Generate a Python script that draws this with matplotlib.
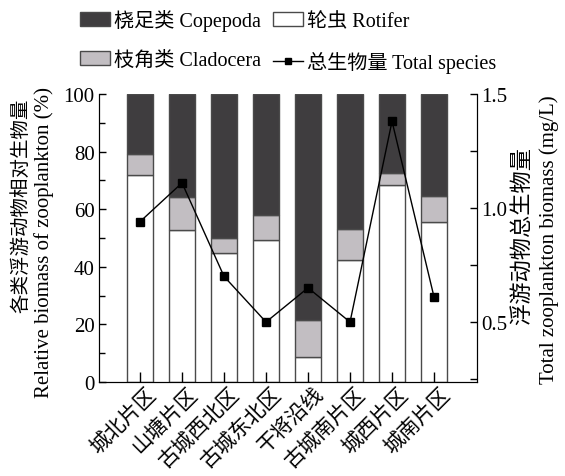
import numpy as np
import matplotlib.pyplot as plt
from matplotlib.ticker import MultipleLocator
from matplotlib.lines import Line2D
from matplotlib.patches import Patch
import matplotlib.transforms as mtransforms

plt.rcParams['font.family'] = ['Liberation Serif', 'Noto Sans CJK SC']
plt.rcParams['font.size'] = 15

# data
regions = ['城北片区', '山塘片区', '古城西北区', '古城东北区', '干将沿线', '古城南片区', '城西片区', '城南片区']
rotifer = [72, 52.8, 44.7, 49.2, 8.7, 42.2, 68.3, 55.4]
cladocera = [7, 11.5, 5.4, 8.9, 12.8, 10.8, 4.4, 9.3]
total_biomass = [0.94, 1.11, 0.70, 0.50, 0.65, 0.50, 1.38, 0.61]

copepoda = [100 - r - c for r, c in zip(rotifer, cladocera)]
x = np.arange(len(regions))
bottom2 = [r + c for r, c in zip(rotifer, cladocera)]

fig = plt.figure(figsize=(5.65, 4.77), dpi=100)
ax = fig.add_axes([0.175, 0.197, 0.669, 0.604])

edge = '#4a4a4a'
w = 0.64
ax.bar(x, rotifer, w, color='white', edgecolor=edge, linewidth=1)
ax.bar(x, cladocera, w, bottom=rotifer, color='#c2bec2', edgecolor=edge, linewidth=1)
ax.bar(x, copepoda, w, bottom=bottom2, color='#3f3d3f', edgecolor=edge, linewidth=1)

ax.set_xlim(-0.98, 8.02)
ax.set_ylim(0, 100)
ax.yaxis.set_major_locator(MultipleLocator(20))
ax.yaxis.set_minor_locator(MultipleLocator(10))
ax.tick_params(axis='y', direction='in', length=5, width=1, labelsize=15, pad=3)
ax.tick_params(axis='y', which='minor', direction='in', length=4, width=1)
ax.tick_params(axis='x', direction='in', length=7, width=1, pad=4)
ax.set_xticks(x)
ax.set_xticklabels(regions, rotation=45, ha='right', va='center',
                   rotation_mode='anchor', fontsize=15)
offset = mtransforms.ScaledTranslation(0.13, -0.03, fig.dpi_scale_trans)
for lab in ax.get_xticklabels():
    lab.set_transform(lab.get_transform() + offset)
ax.spines['top'].set_visible(False)

ax2 = ax.twinx()
ax2.plot(x, total_biomass, color='black', linewidth=1, marker='s',
         markersize=6, markerfacecolor='black')
ax2.set_ylim(0.237, 1.5)
ax2.yaxis.set_major_locator(MultipleLocator(0.5))
ax2.yaxis.set_minor_locator(MultipleLocator(0.25))
ax2.tick_params(axis='y', direction='in', length=5, width=1, labelsize=15, pad=3)
ax2.tick_params(axis='y', which='minor', direction='in', length=5, width=1)
ax2.spines['top'].set_visible(False)

# axis titles, Chinese and English lines placed separately
W, H = 565, 477
fig.text(21 / W, 1 - 206 / H, '各类浮游动物相对生物量', rotation=90,
         ha='center', va='center', fontsize=14)
fig.text(44 / W, 1 - 243 / H, 'Relative biomass of zooplankton (%)',
         rotation=90, ha='center', va='center', fontsize=15)
fig.text(522 / W, 1 - 236 / H, '浮游动物总生物量', rotation=90,
         ha='center', va='center', fontsize=16)
fig.text(549 / W, 1 - 240 / H, 'Total zooplankton biomass (mg/L)',
         rotation=90, ha='center', va='center', fontsize=15)

handles = [
    Patch(facecolor='#3f3d3f', edgecolor=edge, label='桡足类 Copepoda'),
    Patch(facecolor='#c2bec2', edgecolor=edge, label='枝角类 Cladocera'),
    Patch(facecolor='white', edgecolor=edge, label='轮虫 Rotifer'),
    Line2D([0], [0], color='black', linewidth=1, marker='s', markersize=5,
           label='总生物量 Total species'),
]
fig.legend(handles=handles, ncol=2, loc='upper center',
           bbox_to_anchor=(0.51, 1.016), frameon=False, fontsize=14.5,
           handlelength=1.5, handletextpad=0.2, columnspacing=0.6,
           labelspacing=0.95)

fig.savefig('out.png', dpi=100)
